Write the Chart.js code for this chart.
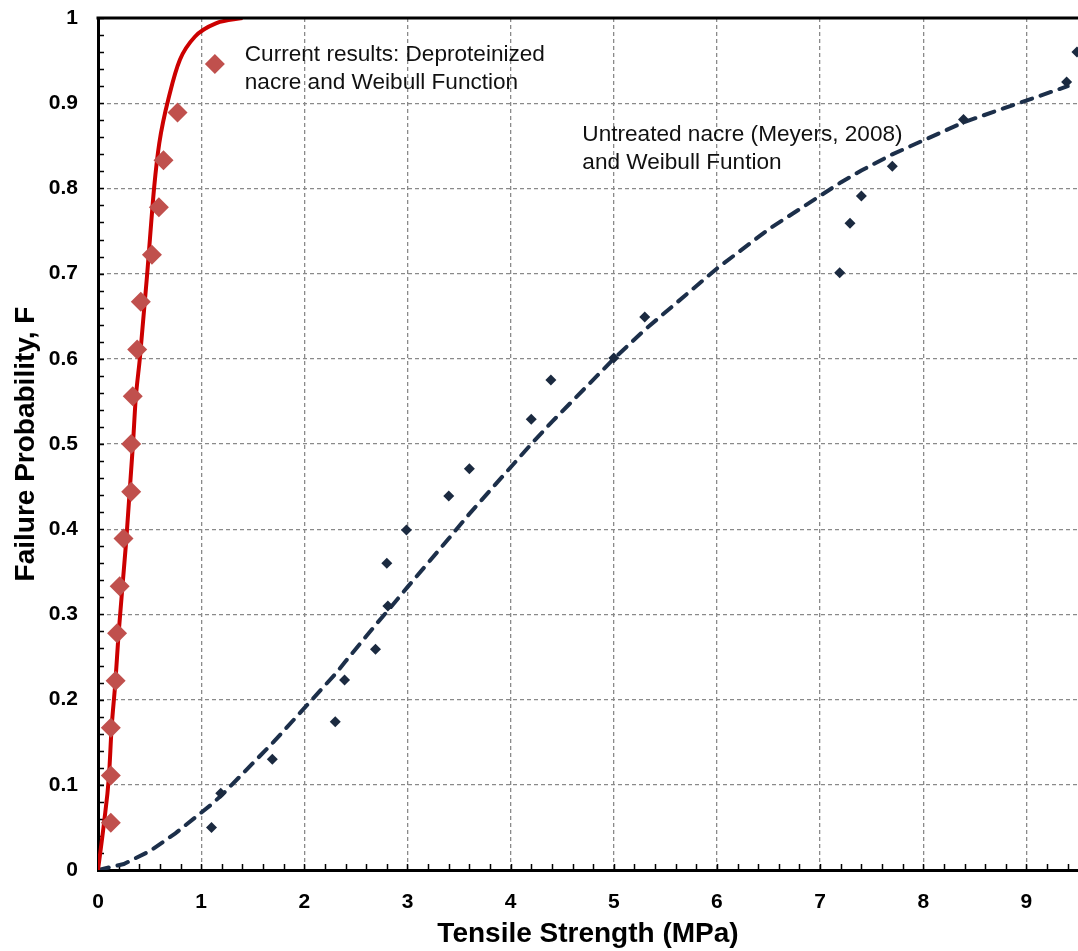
<!DOCTYPE html>
<html><head><meta charset="utf-8">
<script src="https://cdn.jsdelivr.net/npm/chart.js@4/dist/chart.umd.min.js"></script>
<style>html,body{margin:0;padding:0;background:#fff;overflow:hidden}#wrap{width:1078px;height:951px;position:relative}</style>
</head><body><div id="wrap"><canvas id="c"></canvas></div>
<script>
// Deproteinized nacre (current results)
const redX = [0.124,0.124,0.124,0.171,0.185,0.21,0.247,0.322,0.322,0.337,0.38,0.415,0.523,0.59,0.635,0.771];
const redF = [0.0556,0.111,0.167,0.222,0.278,0.333,0.389,0.444,0.5,0.556,0.611,0.667,0.722,0.778,0.833,0.889];
// Weibull function fitted to deproteinized nacre
const fitRedX = [0,0.058,0.106,0.132,0.168,0.2,0.274,0.339,0.365,0.407,0.477,0.545,0.594,0.697,0.794,0.939,1.149,1.40];
const fitRedF = [0,0.055,0.11,0.167,0.22,0.278,0.387,0.5,0.552,0.602,0.70,0.802,0.853,0.912,0.951,0.978,0.994,1.0];
// Untreated nacre (Meyers, 2008)
const navyX = [1.10,1.19,1.69,2.30,2.39,2.69,2.80,2.81,2.99,3.40,3.60,4.20,4.39,5.00,5.30,7.19,7.29,7.40,7.70,8.39,9.39,9.49];
const navyF = [0.050,0.090,0.130,0.174,0.223,0.259,0.360,0.310,0.399,0.439,0.471,0.529,0.575,0.601,0.649,0.701,0.759,0.791,0.826,0.881,0.925,0.960];
// Weibull function for untreated nacre
const fitNavyX = [0,0.25,0.5,0.75,1.1,1.2,1.7,2.3,2.4,2.7,2.8,3.0,3.4,3.6,4.2,4.4,5.0,5.3,6.0,6.5,7.2,7.3,7.4,7.7,8.4,9.4];
const fitNavyF = [0,0.007,0.022,0.043,0.077,0.088,0.15,0.23,0.245,0.289,0.303,0.332,0.389,0.418,0.50,0.526,0.60,0.634,0.706,0.752,0.807,0.814,0.821,0.84,0.878,0.92];

const xTitle = 'Tensile Strength (MPa)';
const yTitle = 'Failure Probability, F';
const noteRed = ['Current results: Deproteinized', 'nacre and Weibull Function'];
const noteNavy = ['Untreated nacre (Meyers, 2008)', 'and Weibull Funtion'];

const pts = (xs, ys) => xs.map((x, i) => ({x, y: ys[i]}));
const FONT = "'Liberation Sans', Arial, sans-serif";
const RED_PT = '#C0504D';

const decor = {
  id: 'decor',
  beforeDatasetsDraw(chart) {
    const ctx = chart.ctx, a = chart.chartArea, xs = chart.scales.x, ys = chart.scales.y;
    ctx.save();
    ctx.strokeStyle = '#000'; ctx.lineWidth = 1.5;
    ctx.beginPath();
    for (let i = 0; i <= 48; i++) {
      const px = Math.round(xs.getPixelForValue(i * 0.2)) + 0.5;
      if (px > a.right + 1) break;
      ctx.moveTo(px, a.bottom); ctx.lineTo(px, a.bottom - 6);
    }
    for (let i = 0; i <= 50; i++) {
      const py = Math.round(ys.getPixelForValue(i * 0.02)) + 0.5;
      ctx.moveTo(a.left, py); ctx.lineTo(a.left + 6, py);
    }
    ctx.stroke();
    ctx.restore();
  },
  afterDraw(chart) {
    const ctx = chart.ctx, a = chart.chartArea, xs = chart.scales.x, ys = chart.scales.y;
    ctx.save();
    ctx.strokeStyle = '#000'; ctx.lineWidth = 3;
    ctx.beginPath(); ctx.moveTo(a.left - 1.5, a.top); ctx.lineTo(chart.width, a.top); ctx.stroke();
    ctx.fillStyle = '#111';
    ctx.font = '22.6px ' + FONT;
    ctx.textBaseline = 'middle'; ctx.textAlign = 'left';
    const lx = xs.getPixelForValue(1.423);
    ctx.fillText(noteRed[0], lx, ys.getPixelForValue(0.9566));
    ctx.fillText(noteRed[1], lx, ys.getPixelForValue(0.9237));
    const nx = xs.getPixelForValue(4.695);
    ctx.fillText(noteNavy[0], nx, ys.getPixelForValue(0.8627));
    ctx.fillText(noteNavy[1], nx, ys.getPixelForValue(0.8298));
    const mx = xs.getPixelForValue(1.133), my = ys.getPixelForValue(0.946), r = 10;
    ctx.fillStyle = RED_PT;
    ctx.beginPath(); ctx.moveTo(mx, my - r); ctx.lineTo(mx + r, my); ctx.lineTo(mx, my + r); ctx.lineTo(mx - r, my); ctx.closePath(); ctx.fill();
    ctx.restore();
  }
};

new Chart(document.getElementById('c'), {
  type: 'scatter',
  data: {
    datasets: [
      { label: 'Deproteinized nacre', data: pts(redX, redF), showLine: false,
        pointStyle: 'rectRot', pointRadius: 10, backgroundColor: RED_PT, borderColor: RED_PT, borderWidth: 0, order: 1 },
      { label: 'Weibull (deproteinized)', data: pts(fitRedX, fitRedF), showLine: true, pointRadius: 0,
        borderColor: '#CC0000', borderWidth: 4, cubicInterpolationMode: 'monotone', order: 2 },
      { label: 'Untreated nacre', data: pts(navyX, navyF), showLine: false,
        pointStyle: 'rectRot', pointRadius: 5.5, backgroundColor: '#1B2A40', borderColor: '#1B2A40', borderWidth: 0, order: 3 },
      { label: 'Weibull (untreated)', data: pts(fitNavyX, fitNavyF), showLine: true, pointRadius: 0,
        borderColor: '#1C2F4A', borderWidth: 4, borderDash: [11, 9], borderCapStyle: 'round', tension: 0, order: 4 }
    ]
  },
  options: {
    responsive: true, maintainAspectRatio: false, animation: false,
    layout: { autoPadding: false, padding: { left: 0, top: 18, right: 0, bottom: 0 } },
    plugins: { legend: { display: false }, tooltip: { enabled: false } },
    scales: {
      x: {
        type: 'linear', min: 0, max: 9.5,
        ticks: { stepSize: 1, includeBounds: false, padding: 20, color: '#000',
          font: { family: FONT, size: 21, weight: 'bold' },
          callback: v => Number.isInteger(v) ? String(v) : '' },
        grid: { color: '#8a8a8a', lineWidth: 1.3, drawTicks: false },
        border: { display: true, color: '#000', width: 3, dash: [4, 3] },
        title: { display: true, text: xTitle, color: '#000', padding: { top: 0, bottom: 0 },
          font: { family: FONT, size: 28, weight: 'bold' } },
        afterFit: s => { s.height = 81; s.paddingLeft = 0; s.paddingRight = 0; }
      },
      y: {
        type: 'linear', min: 0, max: 1,
        ticks: { stepSize: 0.1, padding: 20, color: '#000',
          font: { family: FONT, size: 21, weight: 'bold' },
          callback: v => String(Math.round(v * 10) / 10) },
        grid: { color: '#8a8a8a', lineWidth: 1.3, drawTicks: false },
        border: { display: true, color: '#000', width: 3, dash: [4, 3] },
        title: { display: true, text: yTitle, color: '#000', padding: { top: 9, bottom: 0 },
          font: { family: FONT, size: 28, weight: 'bold' } },
        afterFit: s => { s.width = 98; s.paddingTop = 0; s.paddingBottom = 0; }
      }
    }
  },
  plugins: [decor]
});
</script>
</body></html>
